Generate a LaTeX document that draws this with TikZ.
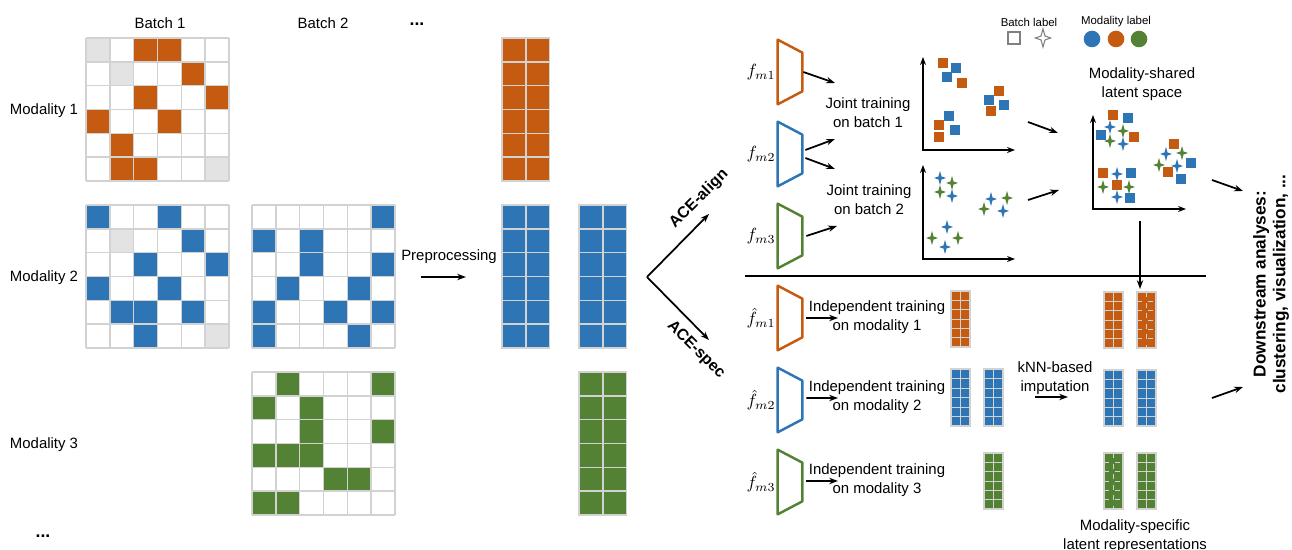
\documentclass[tikz,border=0pt]{standalone}
\usepackage[no-math]{fontspec}
\setmainfont{Liberation Sans}
\usetikzlibrary{arrows.meta, positioning}

\definecolor{morange}{HTML}{C55A11}
\definecolor{mblue}{HTML}{2E75B6}
\definecolor{mgreen}{HTML}{548235}
\definecolor{mgray}{HTML}{E3E3E3}
\definecolor{gline}{HTML}{D2D2D2}

% data matrix: x, y, filled cells r/c/colour
\newcommand{\datamat}[3]{%
  \foreach \r/\c/\col in {#3} \fill[\col] ({#1+\c*23.83},{#2+\r*23.83}) rectangle ++(23.83,23.83);
  \foreach \i in {0,...,6} {
    \draw[gline, line width=0.8pt] ({#1+\i*23.83},#2) -- ++(0,143);
    \draw[gline, line width=0.8pt] (#1,{#2+\i*23.83}) -- ++(143,0);
  }
}
% feature column (2 x 6): x, y, w, h, colour, inner line style
\newcommand{\featcol}[6]{%
  \fill[#5] (#1,#2) rectangle ++(#3,#4);
  \foreach \i in {1,...,5} \draw[#6] (#1,{#2+\i*#4/6}) -- ++(#3,0);
  \draw[#6] ({#1+#3/2},#2) -- ++(0,#4);
  \draw[gline, line width=0.8pt] (#1,#2) rectangle ++(#3,#4);
}
% encoder trapezoid: name, centre, colour
\newcommand{\encoder}[3]{%
  \node[encbox] (#1) at (#2) {};
  \draw[#3, line width=1.4pt, line join=round] (#1.north west) -- ([yshift=-0.26cm]#1.north east)
    -- ([yshift=0.26cm]#1.south east) -- (#1.south west) -- cycle;
}
% markers
\newcommand{\sqmark}[3]{\fill[#3] (#1-4.8,#2-4.8) rectangle ++(9.6,9.6);}
\newcommand{\spark}[4]{\path[#3] (#1,#2-#4) -- (#1+0.22*#4,#2-0.22*#4) -- (#1+0.85*#4,#2) -- (#1+0.22*#4,#2+0.22*#4)
  -- (#1,#2+#4) -- (#1-0.22*#4,#2+0.22*#4) -- (#1-0.85*#4,#2) -- (#1-0.22*#4,#2-0.22*#4) -- cycle;}

\begin{document}
\begin{tikzpicture}[x=0.02cm, y=-0.02cm, font=\fontsize{8.5}{10.8}\selectfont]

    \tikzstyle{arrow} = [line width=1pt, -{Stealth[length=5pt, width=3.6pt]}]
    \tikzstyle{axis} = [line width=1.1pt, {Stealth[length=4.5pt, width=3.4pt]}-{Stealth[length=4.5pt, width=3.4pt]}]
    \tikzstyle{encbox} = [inner sep=0pt, minimum width=0.48cm, minimum height=1.28cm]
    \tikzstyle{lab} = [align=center, inner sep=1pt]
    \tikzstyle{flab} = [inner sep=1pt, font=\fontsize{10}{12}\selectfont]
    \tikzstyle{thinline} = [gray!35, line width=0.4pt]

    \useasboundingbox (0,0) rectangle (1292,550);

    % input data
    \node (batch1) at (160,23) {Batch 1};
    \node (batch2) at (323,23) {Batch 2};
    \node[font=\bfseries] (bdots) at (417,24) {...};
    \node (mod1) at (44,111) {Modality 1};
    \node (mod2) at (44,278) {Modality 2};
    \node (mod3) at (44,445) {Modality 3};
    \node[font=\bfseries] (mdots) at (43,536) {...};

    \datamat{86}{38}{0/0/mgray, 0/2/morange, 0/3/morange, 1/1/mgray, 1/4/morange, 2/2/morange, 2/5/morange,
      3/0/morange, 3/3/morange, 4/1/morange, 5/1/morange, 5/2/morange, 5/5/mgray}
    \datamat{86}{205}{0/0/mblue, 0/3/mblue, 1/1/mgray, 1/4/mblue, 2/2/mblue, 2/5/mblue, 3/0/mblue, 3/3/mblue,
      4/1/mblue, 4/2/mblue, 4/4/mblue, 5/2/mblue, 5/5/mgray}
    \datamat{252}{205}{0/5/mblue, 1/0/mblue, 1/2/mblue, 2/2/mblue, 2/5/mblue, 3/1/mblue, 3/4/mblue,
      4/0/mblue, 4/3/mblue, 4/5/mblue, 5/0/mblue, 5/4/mblue}
    \datamat{252}{372}{0/1/mgreen, 0/5/mgreen, 1/0/mgreen, 1/2/mgreen, 2/2/mgreen, 2/5/mgreen, 3/0/mgreen,
      3/1/mgreen, 3/2/mgreen, 4/3/mgreen, 4/4/mgreen, 5/0/mgreen, 5/1/mgreen}

    % preprocessing
    \node (prep) at (449,257) {Preprocessing};
    \coordinate (prep-a) at (421,277);
    \coordinate (prep-b) at (466,277);
    \draw [arrow] (prep-a) -- (prep-b);

    \featcol{502}{38}{47.6}{143}{morange}{gline, line width=0.8pt}
    \featcol{502}{205}{47.6}{143}{mblue}{gline, line width=0.8pt}
    \featcol{579}{205}{47.6}{143}{mblue}{gline, line width=0.8pt}
    \featcol{579}{372}{47.6}{143}{mgreen}{gline, line width=0.8pt}

    % two branches
    \coordinate (split) at (647,277);
    \coordinate (align-tip) at (709,214);
    \coordinate (spec-tip) at (709,340);
    \draw [arrow] (split) -- (align-tip);
    \draw [arrow] (split) -- (spec-tip);
    \node[font=\bfseries\fontsize{9}{11}\selectfont, rotate=45] (acealign) at (699,199) {ACE-align};
    \node[font=\bfseries\fontsize{9}{11}\selectfont, rotate=-45] (acespec) at (696,350) {ACE-spec};

    % ACE-align
    \encoder{fm1}{790,72}{morange}
    \encoder{fm2}{790,154}{mblue}
    \encoder{fm3}{790,236}{mgreen}
    \node[flab, left=0pt of fm1] (fm1lab) {$f_{m1}$};
    \node[flab, left=0pt of fm2] (fm2lab) {$f_{m2}$};
    \node[flab, left=0pt of fm3] (fm3lab) {$f_{m3}$};

    \node[lab] (joint1) at (868,113) {Joint training\\on batch 1};
    \node[lab] (joint2) at (869,200) {Joint training\\on batch 2};
    \coordinate (j1a) at (835,83);
    \coordinate (j1b) at (835,139);
    \coordinate (j2a) at (835,169);
    \coordinate (j2b) at (837,226);
    \draw [arrow] ([xshift=0.02cm]fm1.east) -- (j1a);
    \draw [arrow] ([xshift=0.06cm, yshift=0.08cm]fm2.east) -- (j1b);
    \draw [arrow] ([xshift=0.06cm, yshift=-0.08cm]fm2.east) -- (j2a);
    \draw [arrow] ([xshift=0.08cm]fm3.east) -- (j2b);

    % latent spaces per batch
    \draw[axis] (923,57) -- (923,150) -- (1015,150);
    \draw[axis] (923,165) -- (923,259) -- (1015,259);
    \foreach \x/\y/\c in {943/63/morange, 956/68/mblue, 947/77/mblue, 962/83/morange, 999/91/morange, 989/100/mblue,
      1004/105/mblue, 991/111/morange, 949/116/mblue, 939/125/morange, 955/130/mblue, 939/137/morange}
      \sqmark{\x}{\y}{\c};
    \foreach \x/\y/\c in {940/178/mblue, 952/183/mgreen, 940/192/mgreen, 952/196/mblue, 991/199/mblue, 1007/198/mgreen,
      984/209/mgreen, 1003/211/mblue, 947/227/mblue, 932/238/mgreen, 958/238/mgreen, 945/247/mblue}
      \spark{\x}{\y}{fill=\c}{7};

    % legend
    \node[font=\fontsize{6.5}{8}\selectfont] (batchlab) at (1029,22) {Batch label};
    \node[font=\fontsize{6.5}{8}\selectfont] (modlab) at (1116,22) {Modality label};
    \draw[gray, line width=0.7pt] (1008,32) rectangle (1020,44);
    \spark{1043}{38}{draw=gray, line width=0.6pt}{9};
    \fill[mblue] (1092,39) circle (8.3);
    \fill[morange] (1116,39) circle (8.3);
    \fill[mgreen] (1139,39) circle (8.3);

    % shared latent space
    \node[lab] (shared) at (1142,84) {Modality-shared\\latent space};
    \coordinate (s1a) at (1028,122);
    \coordinate (s1b) at (1058,133);
    \coordinate (s2a) at (1028,200);
    \coordinate (s2b) at (1059,190);
    \draw [arrow] (s1a) -- (s1b);
    \draw [arrow] (s2a) -- (s2b);
    \draw[axis] (1093,115) -- (1093,209) -- (1186,209);
    \foreach \x/\y/\c in {1113/115/morange, 1128/118/mblue, 1101/135/mblue, 1134/137/morange, 1174/144/morange,
      1191/163/mblue, 1168/172/morange, 1181/179/mblue, 1103/173/morange, 1131/173/mblue, 1117/185/morange, 1130/198/mblue}
      \sqmark{\x}{\y}{\c};
    \foreach \x/\y/\c in {1110/127/mblue, 1123/131/mgreen, 1110/141/mgreen, 1123/144/mblue, 1166/154/mblue, 1182/153/mgreen,
      1159/165/mgreen, 1177/166/mblue, 1117/174/mblue, 1103/187/mgreen, 1129/187/mgreen, 1117/197/mblue}
      \spark{\x}{\y}{fill=\c}{7};

    % separator
    \draw[line width=1.1pt] (745,276) -- (1206,276);
    \coordinate (down-a) at (1140,221);
    \coordinate (down-b) at (1140,289);
    \draw [arrow] (down-a) -- (down-b);

    % ACE-spec
    \encoder{gm1}{790,318}{morange}
    \encoder{gm2}{790,400}{mblue}
    \encoder{gm3}{790,482}{mgreen}
    \node[flab, left=0pt of gm1] (gm1lab) {$\hat{f}_{m1}$};
    \node[flab, left=0pt of gm2] (gm2lab) {$\hat{f}_{m2}$};
    \node[flab, left=0pt of gm3] (gm3lab) {$\hat{f}_{m3}$};

    \node[lab] (ind1) at (877,317) {Independent training\\on modality 1};
    \node[lab] (ind2) at (877,397) {Independent training\\on modality 2};
    \node[lab] (ind3) at (877,480) {Independent training\\on modality 3};
    \coordinate (i1) at (838,318);
    \coordinate (i2) at (838,398);
    \coordinate (i3) at (838,481);
    \draw [arrow] ([xshift=0.08cm]gm1.east) -- (i1);
    \draw [arrow] ([xshift=0.08cm, yshift=0.04cm]gm2.east) -- (i2);
    \draw [arrow] ([xshift=0.08cm, yshift=0.02cm]gm3.east) -- (i3);

    \featcol{951}{291}{19}{56}{morange}{thinline}
    \featcol{951}{369}{19}{57}{mblue}{thinline}
    \featcol{984}{369}{19}{57}{mblue}{thinline}
    \featcol{984}{453}{19}{56}{mgreen}{thinline}

    \node[lab] (knn) at (1055,378) {kNN-based\\imputation};
    \coordinate (knn-a) at (1035,397);
    \coordinate (knn-b) at (1068,397);
    \draw [arrow] (knn-a) -- (knn-b);

    \featcol{1104}{292}{19}{56}{morange}{thinline}
    \featcol{1137}{292}{19}{56}{morange}{thinline, dashed}
    \featcol{1104}{370}{19}{56}{mblue}{thinline}
    \featcol{1137}{370}{19}{56}{mblue}{thinline}
    \featcol{1104}{453}{19}{56}{mgreen}{thinline, dashed}
    \featcol{1137}{453}{19}{56}{mgreen}{thinline}
    \node[lab] (specific) at (1135,536) {Modality-specific\\latent representations};

    % downstream
    \coordinate (o1a) at (1212,180);
    \coordinate (o1b) at (1243,191);
    \coordinate (o2a) at (1212,398);
    \coordinate (o2b) at (1243,387);
    \draw [arrow] (o1a) -- (o1b);
    \draw [arrow] (o2a) -- (o2b);
    \node[font=\bfseries\fontsize{9.8}{11.2}\selectfont, rotate=90, align=center] (downstream) at (1271,284)
      {Downstream analyses:\\clustering, visualization, ...};

\end{tikzpicture}
\end{document}
